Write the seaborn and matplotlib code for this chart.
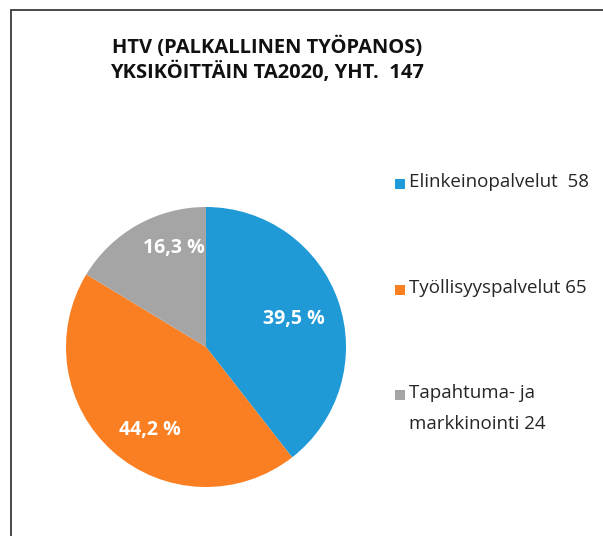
import numpy as np
import matplotlib
matplotlib.use("Agg")
import matplotlib.pyplot as plt
from matplotlib.patches import Rectangle
import seaborn as sns

# Data: paid work input (person-years) per unit, budget 2020
categories = ["Elinkeinopalvelut", "Työllisyyspalvelut", "Tapahtuma- ja\nmarkkinointi"]
values = [58, 65, 24]
legend_labels = ["Elinkeinopalvelut  58", "Työllisyyspalvelut 65", "Tapahtuma- ja\nmarkkinointi 24"]
title_lines = ["HTV (PALKALLINEN TYÖPANOS)", "YKSIKÖITTÄIN TA2020, YHT.  147"]

sns.set_theme(style="white")
plt.rcParams["font.family"] = ["Open Sans", "DejaVu Sans"]
colors = sns.color_palette(["#1F9AD7", "#FA7F23", "#A5A5A5"])

W, H = 603, 536
fig = plt.figure(figsize=(W / 100, H / 100), dpi=100)

# outer frame (top and left edges visible)
fig.patches.append(Rectangle((11 / W, -0.1), 1.2, (H - 10) / H + 0.1, transform=fig.transFigure,
                             fill=False, edgecolor="#3a3a3a", linewidth=1.3))

# pie axes
cx, cy, r = 206, 347, 140
ax = fig.add_axes([(cx - r) / W, (H - cy - r) / H, 2 * r / W, 2 * r / H])


def fmt(p):
    return f"{p:.1f}".replace(".", ",") + " %"


wedges, _, autotexts = ax.pie(values, colors=colors, startangle=90, counterclock=False,
                              radius=1, autopct=fmt, pctdistance=0.7,
                              wedgeprops=dict(linewidth=0),
                              textprops=dict(color="white", fontsize=14, fontweight="bold"))
# label placement (distance from centre, angular nudge in degrees)
placement = [(0.66, -1.4), (0.72, 7.5), (0.74, -11.5)]
for w, t, (d, nudge) in zip(wedges, autotexts, placement):
    ang = np.deg2rad((w.theta1 + w.theta2) / 2 + nudge)
    t.set_position((d * np.cos(ang), d * np.sin(ang)))
ax.set_xlim(-1, 1)
ax.set_ylim(-1, 1)
ax.set_aspect("equal")
ax.axis("off")

# title
for i, line in enumerate(title_lines):
    fig.text(267 / W, 1 - (47 + 25.5 * i) / H, line, ha="center", va="center",
             fontsize=14.5, fontweight="bold", color="#111111")

# legend
leg_y = [184, 290, 395]
for col, lab, y in zip(colors, legend_labels, leg_y):
    fig.patches.append(Rectangle((395 / W, 1 - (y + 5) / H), 10 / W, 10 / H,
                                 transform=fig.transFigure, facecolor=col, edgecolor="none"))
    fig.text(409 / W, 1 - (y - 11) / H, lab, ha="left", va="top", fontsize=13.5,
             color="#262626", linespacing=1.95)

fig.savefig("out.png", dpi=100)
